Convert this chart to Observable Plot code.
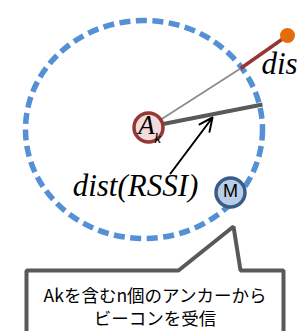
<!DOCTYPE html>
<html><head><meta charset="utf-8">
<script src="https://cdn.jsdelivr.net/npm/d3@7"></script>
<script src="https://cdn.jsdelivr.net/npm/@observablehq/plot@0.6"></script>
<style>body{margin:0;background:#fff}svg{display:block}</style>
</head><body>
<div id="chart"></div>
<script>
// Diagram nodes (scene units = pixels, y grows downward)
const rangeCircle = [{x: 143.5, y: 129, r: 109, aspect: 118.5 / 109}];
const anchor = [{x: 148, y: 127, label: "A", sub: "k"}];
const mobile = [{x: 230, y: 192, label: "M"}];
const farAnchor = [{x: 287, y: 35}];
const thinLine = [{x1: 148, y1: 127, x2: 240, y2: 68}];
const redLine = [{x1: 240, y1: 68, x2: 287, y2: 35}];
const rssiLine = [{x1: 160, y1: 124, x2: 262, y2: 104}];
const arrowData = [{x1: 170, y1: 173, x2: 212, y2: 117}];
const distLabel = [{x: 261, y: 73, text: "dist"}];
const rssiLabel = [{x: 135, y: 195, text: "dist(RSSI)"}];
const calloutX = [26, 26, 178, 233, 240, 283, 283];
const calloutY = [340, 270, 270, 226, 270, 270, 340];
const calloutLines = ["Akを含むn個のアンカーから", "ビーコンを受信"];
const calloutLineY = [296, 319];

const callout = calloutX.map((x, i) => ({x, y: calloutY[i]}));
const calloutText = calloutLines.map((t, i) => ({x: 154.5, y: calloutLineY[i], text: t}));

// ellipse symbol built on d3.path beziers
const aspect = rangeCircle[0].aspect;
const ellipseSymbol = {
  draw(ctx, size) {
    const ry = Math.sqrt(size / Math.PI), rx = ry * aspect, k = 0.5523;
    ctx.moveTo(rx, 0);
    ctx.bezierCurveTo(rx, k * ry, k * rx, ry, 0, ry);
    ctx.bezierCurveTo(-k * rx, ry, -rx, k * ry, -rx, 0);
    ctx.bezierCurveTo(-rx, -k * ry, -k * rx, -ry, 0, -ry);
    ctx.bezierCurveTo(k * rx, -ry, rx, -k * ry, rx, 0);
    ctx.closePath();
  }
};

const serif = "Liberation Serif";
const plot = Plot.plot({
  width: 298, height: 331,
  margin: 0,
  x: {domain: [0, 298], range: [0, 298], axis: null},
  y: {domain: [0, 331], range: [0, 331], axis: null},
  style: {background: "white", overflow: "hidden"},
  marks: [
    Plot.dot(rangeCircle, {x: "x", y: "y", r: rangeCircle[0].r, symbol: ellipseSymbol,
      stroke: "#5590D6", strokeWidth: 5.5, strokeDasharray: "11,5.5", fill: "none"}),
    Plot.link(thinLine, {x1: "x1", y1: "y1", x2: "x2", y2: "y2", stroke: "#8c8c8c", strokeWidth: 1.8}),
    Plot.link(redLine, {x1: "x1", y1: "y1", x2: "x2", y2: "y2", stroke: "#953735", strokeWidth: 3.5}),
    Plot.dot(farAnchor, {x: "x", y: "y", r: 7.5, fill: "#E46C0A", stroke: "none"}),
    Plot.link(rssiLine, {x1: "x1", y1: "y1", x2: "x2", y2: "y2", stroke: "#595959", strokeWidth: 4}),
    Plot.arrow(arrowData, {x1: "x1", y1: "y1", x2: "x2", y2: "y2", stroke: "black", strokeWidth: 2, headLength: 11, headAngle: 50}),
    Plot.dot(anchor, {x: "x", y: "y", r: 14.5, fill: "#F2DCDB", stroke: "#953735", strokeWidth: 3.5}),
    Plot.text(anchor, {x: d => d.x - 2, y: d => d.y - 2, text: "label", fontFamily: serif, fontStyle: "italic", fontSize: 27, fill: "black"}),
    Plot.text(anchor, {x: d => d.x + 9, y: d => d.y + 11, text: "sub", fontFamily: serif, fontStyle: "italic", fontSize: 15, fill: "black"}),
    Plot.dot(mobile, {x: "x", y: "y", r: 14.5, fill: "#B9CDE5", stroke: "#385D8A", strokeWidth: 3.5}),
    Plot.text(mobile, {x: "x", y: d => d.y - 1, text: "label", fontFamily: "Liberation Sans", fontSize: 18, fill: "black"}),
    Plot.text(distLabel, {x: "x", y: "y", text: "text", textAnchor: "start", lineAnchor: "bottom", fontFamily: serif, fontStyle: "italic", fontSize: 31, fill: "black"}),
    Plot.text(rssiLabel, {x: "x", y: "y", text: "text", textAnchor: "middle", lineAnchor: "bottom", fontFamily: serif, fontStyle: "italic", fontSize: 31, fill: "black"}),
    Plot.line(callout, {x: "x", y: "y", stroke: "#595959", strokeWidth: 4, fill: "white", strokeLinejoin: "miter"}),
    Plot.text(calloutText, {x: "x", y: "y", text: "text", fontFamily: "Noto Sans CJK JP", fontSize: 17.5, fill: "black"})
  ]
});
document.getElementById("chart").appendChild(plot);
</script>
</body></html>
